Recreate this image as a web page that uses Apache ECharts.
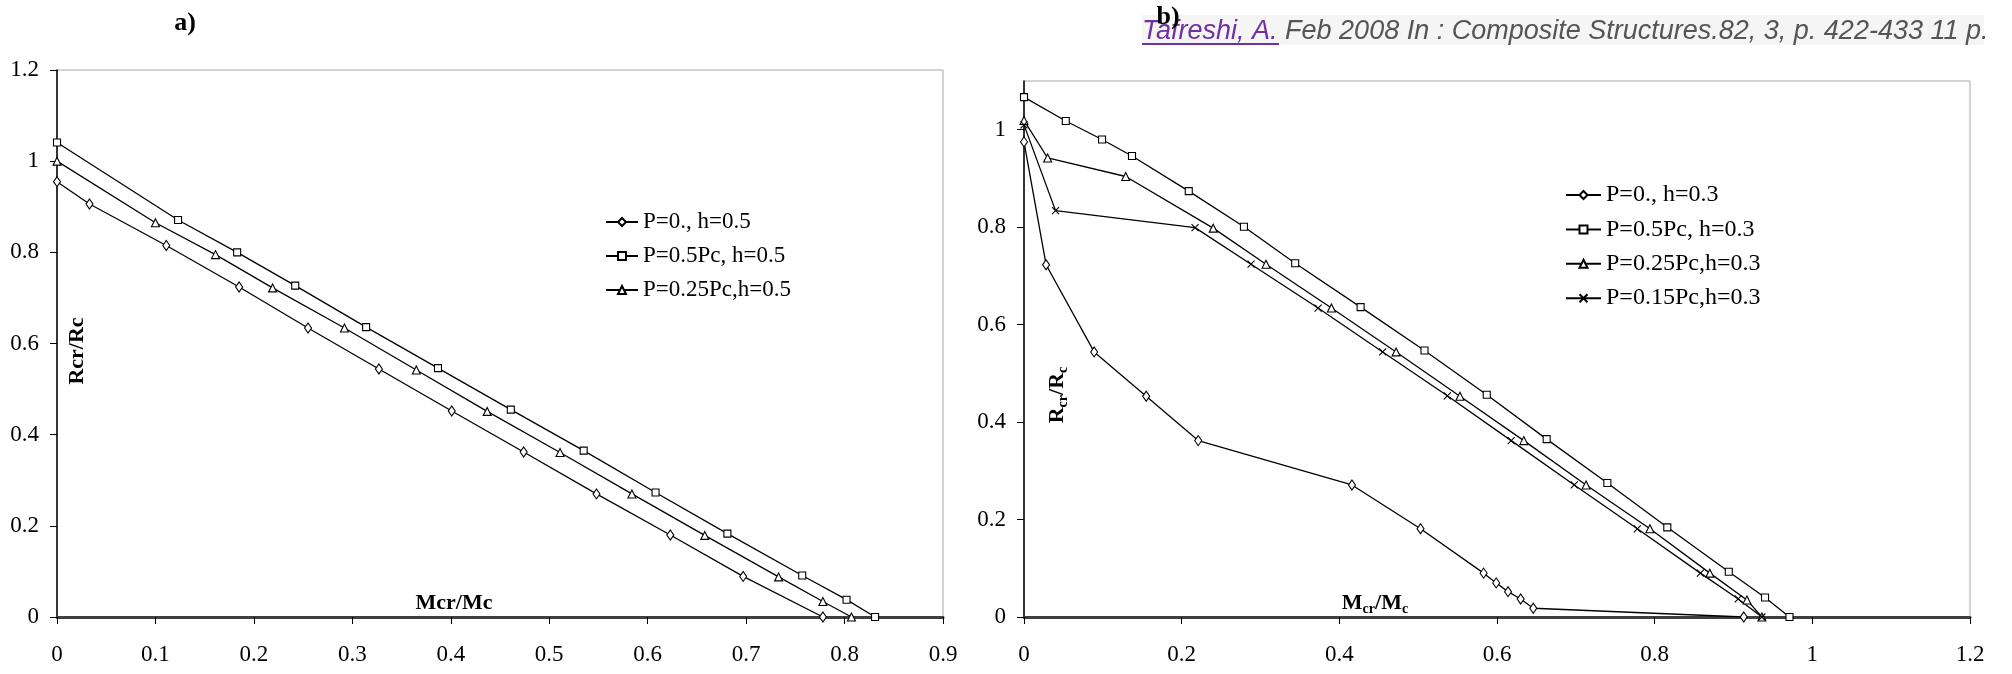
<!DOCTYPE html>
<html>
<head>
<meta charset="utf-8">
<script src="https://cdn.jsdelivr.net/npm/echarts@6/dist/echarts.min.js"></script>
<style>html,body{margin:0;padding:0;background:#fff}#c{width:2012px;height:674px}</style>
</head>
<body>
<div id="c"></div>
<script>
// ---- Chart a) data ----
const aNames = ['P=0., h=0.5', 'P=0.5Pc, h=0.5', 'P=0.25Pc,h=0.5'];
const aX0 = [0, 0.033, 0.111, 0.185, 0.255, 0.327, 0.401, 0.474, 0.548, 0.623, 0.697, 0.778];
const aY0 = [0.955, 0.906, 0.815, 0.724, 0.634, 0.544, 0.452, 0.362, 0.270, 0.180, 0.089, 0];
const aX1 = [0, 0.123, 0.183, 0.242, 0.314, 0.387, 0.461, 0.535, 0.608, 0.681, 0.757, 0.802, 0.831];
const aY1 = [1.041, 0.871, 0.800, 0.727, 0.636, 0.546, 0.455, 0.365, 0.273, 0.183, 0.091, 0.038, 0];
const aX2 = [0, 0.100, 0.161, 0.219, 0.292, 0.365, 0.437, 0.511, 0.584, 0.658, 0.733, 0.778, 0.807];
const aY2 = [1.0, 0.865, 0.795, 0.722, 0.634, 0.542, 0.451, 0.361, 0.270, 0.179, 0.088, 0.034, 0];

// ---- Chart b) data ----
const bNames = ['P=0., h=0.3', 'P=0.5Pc, h=0.3', 'P=0.25Pc,h=0.3', 'P=0.15Pc,h=0.3'];
const bX0 = [0, 0.028, 0.089, 0.155, 0.221, 0.416, 0.503, 0.583, 0.599, 0.614, 0.630, 0.646, 0.913];
const bY0 = [0.975, 0.723, 0.544, 0.453, 0.362, 0.271, 0.181, 0.090, 0.070, 0.052, 0.037, 0.018, 0];
const bX1 = [0, 0.053, 0.099, 0.137, 0.209, 0.279, 0.344, 0.427, 0.508, 0.587, 0.663, 0.740, 0.816, 0.894, 0.940, 0.971];
const bY1 = [1.067, 1.018, 0.980, 0.946, 0.874, 0.801, 0.726, 0.636, 0.547, 0.456, 0.365, 0.275, 0.184, 0.093, 0.040, 0];
const bX2 = [0, 0.030, 0.129, 0.240, 0.307, 0.390, 0.472, 0.553, 0.634, 0.713, 0.794, 0.870, 0.917, 0.936];
const bY2 = [1.019, 0.942, 0.904, 0.798, 0.724, 0.634, 0.544, 0.453, 0.362, 0.271, 0.181, 0.090, 0.035, 0];
const bX3 = [0, 0.040, 0.217, 0.288, 0.373, 0.455, 0.537, 0.618, 0.698, 0.778, 0.858, 0.906, 0.936];
const bY3 = [1.010, 0.834, 0.799, 0.724, 0.634, 0.544, 0.454, 0.362, 0.271, 0.181, 0.090, 0.037, 0];

// ---- Axis settings ----
const aXTicks = {min: 0, max: 0.9, interval: 0.1};
const aYTicks = {min: 0, max: 1.2, interval: 0.2};
const bXTicks = {min: 0, max: 1.2, interval: 0.2};
const bYTicks = {min: 0, max: 1.1, interval: 0.2};

const citationLink = 'Tafreshi, A.';
const citationRest = ' Feb 2008 In : Composite Structures.82, 3, p. 422-433 11 p.';

const SERIF = 'Liberation Serif';
const pts = (xs, ys) => xs.map((x, i) => [x, ys[i]]);
const CROSS = 'path://M0,0L10,10M10,0L0,10';

function mkSeries(name, xs, ys, sym, size, gi) {
  return {
    type: 'line', name, xAxisIndex: gi, yAxisIndex: gi,
    data: pts(xs, ys), symbol: sym, symbolSize: size, showSymbol: true,
    lineStyle: {color: '#000', width: 1.3},
    itemStyle: {color: '#fff', borderColor: '#000', borderWidth: 1.1},
    emphasis: {disabled: true}, animation: false, z: 3
  };
}

function xAx(gi, t) {
  return Object.assign({
    type: 'value', gridIndex: gi,
    axisLine: {show: true, onZero: false, lineStyle: {color: '#404040', width: 3}},
    axisTick: {show: true, inside: false, length: 7, lineStyle: {color: '#000', width: 1}},
    splitLine: {show: false},
    axisLabel: {fontFamily: SERIF, fontSize: 23, color: '#000', margin: 26}
  }, t);
}
function yAx(gi, t, extra) {
  return Object.assign({
    type: 'value', gridIndex: gi,
    axisLine: {show: true, onZero: false, lineStyle: {color: '#000', width: 1.5}},
    axisTick: {show: true, inside: false, length: 7, lineStyle: {color: '#000', width: 1}},
    splitLine: {show: false},
    axisLabel: Object.assign({fontFamily: SERIF, fontSize: 23, color: '#000', margin: 18}, extra || {})
  }, t);
}

const subRich = {
  b: {fontFamily: SERIF, fontSize: 22, fontWeight: 'bold', fill: '#000', lineHeight: 26},
  s: {fontFamily: SERIF, fontSize: 14, fontWeight: 'bold', fill: '#000', lineHeight: 14, verticalAlign: 'bottom'}
};

const chart = echarts.init(document.getElementById('c'), null, {renderer: 'canvas'});
chart.setOption({
  animation: false,
  backgroundColor: '#fff',
  grid: [
    {left: 57, top: 70, right: 1069, bottom: 57, show: true, borderColor: '#a6a6a6', borderWidth: 1, backgroundColor: 'transparent'},
    {left: 1024, top: 81, right: 42, bottom: 57, show: true, borderColor: '#a6a6a6', borderWidth: 1, backgroundColor: 'transparent'}
  ],
  xAxis: [xAx(0, aXTicks), xAx(1, bXTicks)],
  yAxis: [yAx(0, aYTicks), yAx(1, bYTicks, {showMaxLabel: false})],
  legend: [
    {
      data: aNames, orient: 'vertical', left: 600, top: 205,
      itemWidth: 32, itemHeight: 10, itemGap: 10,
      textStyle: {fontFamily: SERIF, fontSize: 23, color: '#000', lineHeight: 24},
      selectedMode: false
    },
    {
      data: bNames, orient: 'vertical', left: 1560, top: 178,
      itemWidth: 35, itemHeight: 10, itemGap: 10.4,
      textStyle: {fontFamily: SERIF, fontSize: 24, color: '#000', lineHeight: 24},
      selectedMode: false
    }
  ],
  series: [
    mkSeries(aNames[0], aX0, aY0, 'diamond', [7, 10], 0),
    mkSeries(aNames[1], aX1, aY1, 'rect', 7, 0),
    mkSeries(aNames[2], aX2, aY2, 'triangle', 8, 0),
    mkSeries(bNames[0], bX0, bY0, 'diamond', [7, 10], 1),
    mkSeries(bNames[1], bX1, bY1, 'rect', 7, 1),
    mkSeries(bNames[2], bX2, bY2, 'triangle', 8, 1),
    mkSeries(bNames[3], bX3, bY3, CROSS, 7, 1)
  ],
  graphic: [
    {type: 'text', x: 185, y: 23, style: {text: 'a)', fontFamily: SERIF, fontSize: 26, fontWeight: 'bold', fill: '#000', align: 'center', verticalAlign: 'middle'}},
    {type: 'rect', shape: {x: 1142, y: 15, width: 842, height: 30}, style: {fill: '#f5f5f5'}, z: 0},
    {type: 'text', x: 1142, y: 31, z: 1, style: {
      text: '{l|' + citationLink + '}{r|' + citationRest + '}',
      fontFamily: 'Liberation Sans', fontStyle: 'italic', fontSize: 27,
      align: 'left', verticalAlign: 'middle',
      rich: {
        l: {fill: '#7030a0', fontFamily: 'Liberation Sans', fontStyle: 'italic', fontSize: 27},
        r: {fill: '#555555', fontFamily: 'Liberation Sans', fontStyle: 'italic', fontSize: 27}
      }
    }},
    {type: 'line', z: 1, shape: {x1: 1142, y1: 44, x2: 1279, y2: 44}, style: {stroke: '#7030a0', lineWidth: 2}},
    {type: 'text', x: 1168, y: 17, z: 2, style: {text: 'b)', fontFamily: SERIF, fontSize: 26, fontWeight: 'bold', fill: '#000', align: 'center', verticalAlign: 'middle'}},
    {type: 'text', x: 77, y: 351, rotation: Math.PI / 2, z: 5, style: {text: 'Rcr/Rc', fontFamily: SERIF, fontSize: 22, fontWeight: 'bold', fill: '#000', align: 'center', verticalAlign: 'middle'}},
    {type: 'text', x: 454, y: 603, z: 5, style: {text: 'Mcr/Mc', fontFamily: SERIF, fontSize: 22, fontWeight: 'bold', fill: '#000', align: 'center', verticalAlign: 'middle'}},
    {type: 'text', x: 1057, y: 395, rotation: Math.PI / 2, z: 5, style: {text: '{b|R}{s|cr}{b|/R}{s|c}', align: 'center', verticalAlign: 'middle', rich: subRich}},
    {type: 'text', x: 1375, y: 603, z: 5, style: {text: '{b|M}{s|cr}{b|/M}{s|c}', align: 'center', verticalAlign: 'middle', rich: subRich}}
  ]
});
</script>
</body>
</html>
